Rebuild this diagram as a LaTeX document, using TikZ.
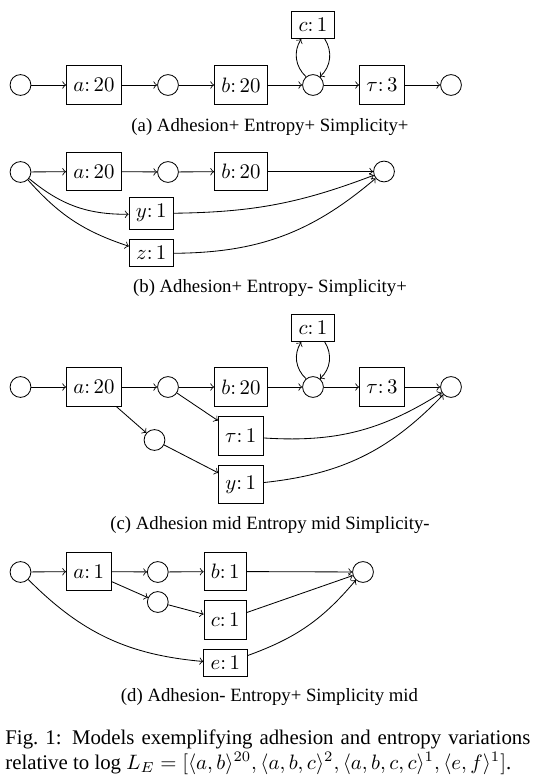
\documentclass[tikz,border=0pt]{standalone}
\usepackage[no-math]{fontspec}
\setmainfont{Liberation Serif}

\tikzset{
  place/.style={draw, circle, minimum size=10pt, inner sep=0pt},
  trans/.style={draw, minimum height=18.5pt},
  tsmall/.style={draw},
  subcap/.style={font=\fontsize{9}{11}\selectfont}
}

\begin{document}
\begin{tikzpicture}[x=0.48pt, y=-0.48pt]
\useasboundingbox (0,0) rectangle (542,780);

% Model (a)
\node[place] (a-p1) at (20.5,85) {};
\node[trans] (a-a) at (94,85) {$a\colon 20$};
\node[place] (a-p2) at (168,85) {};
\node[trans] (a-b) at (241,85) {$b\colon 20$};
\node[place] (a-p3) at (313,85) {};
\node[tsmall] (a-c) at (313,25) {$c\colon 1$};
\node[trans] (a-t) at (382,85) {$\tau\colon 3$};
\node[place] (a-p4) at (451,85) {};
\draw[->] (a-p1) -- (a-a);
\draw[->] (a-a) -- (a-p2);
\draw[->] (a-p2) -- (a-b);
\draw[->] (a-b) -- (a-p3);
\draw[->] (a-p3) -- (a-t);
\draw[->] (a-t) -- (a-p4);
\draw[->] (a-p3) to[bend left=40] (a-c);
\draw[->] (a-c) to[bend left=40] (a-p3);
\node[subcap] (a-cap) at (270,127) {(a) Adhesion+ Entropy+ Simplicity+};

% Model (b)
\node[place] (b-p1) at (20.5,172) {};
\node[trans] (b-a) at (94,171.5) {$a\colon 20$};
\node[place] (b-p2) at (168,172) {};
\node[trans] (b-b) at (241,171.5) {$b\colon 20$};
\node[tsmall] (b-y) at (151.3,213.3) {$y\colon 1$};
\node[tsmall] (b-z) at (151.3,253) {$z\colon 1$};
\node[place] (b-p3) at (384,171.5) {};
\draw[->] (b-p1) -- (b-a);
\draw[->] (b-a) -- (b-p2);
\draw[->] (b-p2) -- (b-b);
\draw[->] (b-b) -- (b-p3);
\draw[->] (b-p1) to[bend right=20] (b-y);
\draw[->] (b-p1) to[bend right=15] (b-z);
\draw[->] (b-y) to[bend right=10] (b-p3);
\draw[->] (b-z) to[bend right=20] (b-p3);
\node[subcap] (b-cap) at (270,288) {(b) Adhesion+ Entropy- Simplicity+};

% Model (c)
\node[place] (c-p1) at (20.5,387) {};
\node[trans] (c-a) at (94,387) {$a\colon 20$};
\node[place] (c-p2) at (168,387) {};
\node[trans] (c-b) at (241,387) {$b\colon 20$};
\node[place] (c-p3) at (313,387) {};
\node[tsmall] (c-c) at (313,328) {$c\colon 1$};
\node[trans] (c-t) at (382,387) {$\tau\colon 3$};
\node[place] (c-p4) at (451,387) {};
\node[place] (c-pm) at (154.5,440) {};
\node[trans] (c-t1) at (240.8,436) {$\tau\colon 1$};
\node[trans] (c-y) at (240.8,484.5) {$y\colon 1$};
\draw[->] (c-p1) -- (c-a);
\draw[->] (c-a) -- (c-p2);
\draw[->] (c-p2) -- (c-b);
\draw[->] (c-b) -- (c-p3);
\draw[->] (c-p3) -- (c-t);
\draw[->] (c-t) -- (c-p4);
\draw[->] (c-p3) to[bend left=40] (c-c);
\draw[->] (c-c) to[bend left=40] (c-p3);
\draw[->] (c-a) -- (c-pm);
\draw[->] (c-pm) -- (c-y);
\draw[->] (c-p2) -- (c-t1);
\draw[->] (c-t1) to[bend right=18] (c-p4);
\draw[->] (c-y) to[bend right=20] (c-p4);
\node[subcap] (c-cap) at (270,525) {(c) Adhesion mid Entropy mid Simplicity-};

% Model (d)
\node[place] (d-p1) at (20.5,572) {};
\node[trans] (d-a) at (88.8,571.5) {$a\colon 1$};
\node[place] (d-p2) at (157.8,572) {};
\node[trans] (d-b) at (225.3,571.5) {$b\colon 1$};
\node[place] (d-pm) at (157.8,602) {};
\node[trans] (d-c) at (225.3,620) {$c\colon 1$};
\node[tsmall] (d-e) at (225.3,663) {$e\colon 1$};
\node[place] (d-p3) at (363,572) {};
\draw[->] (d-p1) -- (d-a);
\draw[->] (d-a) -- (d-p2);
\draw[->] (d-p2) -- (d-b);
\draw[->] (d-b) -- (d-p3);
\draw[->] (d-a) -- (d-pm);
\draw[->] (d-pm) -- (d-c);
\draw[->] (d-c) -- (d-p3);
\draw[->] (d-p1) to[bend right=20] (d-e);
\draw[->] (d-e) to[bend right=15] (d-p3);
\node[subcap] (d-cap) at (269.5,697) {(d) Adhesion- Entropy+ Simplicity mid};

% Figure caption
\node[text width=252pt, align=justify, inner sep=0pt, anchor=north west] (fig-cap) at (5,729)
  {Fig.\ 1: Models exemplifying adhesion and entropy variations relative to log
   $L_E = [\langle a, b\rangle^{20}, \langle a, b, c\rangle^{2}, \langle a, b, c, c\rangle^{1}, \langle e, f\rangle^{1}]$.};
\end{tikzpicture}
\end{document}
